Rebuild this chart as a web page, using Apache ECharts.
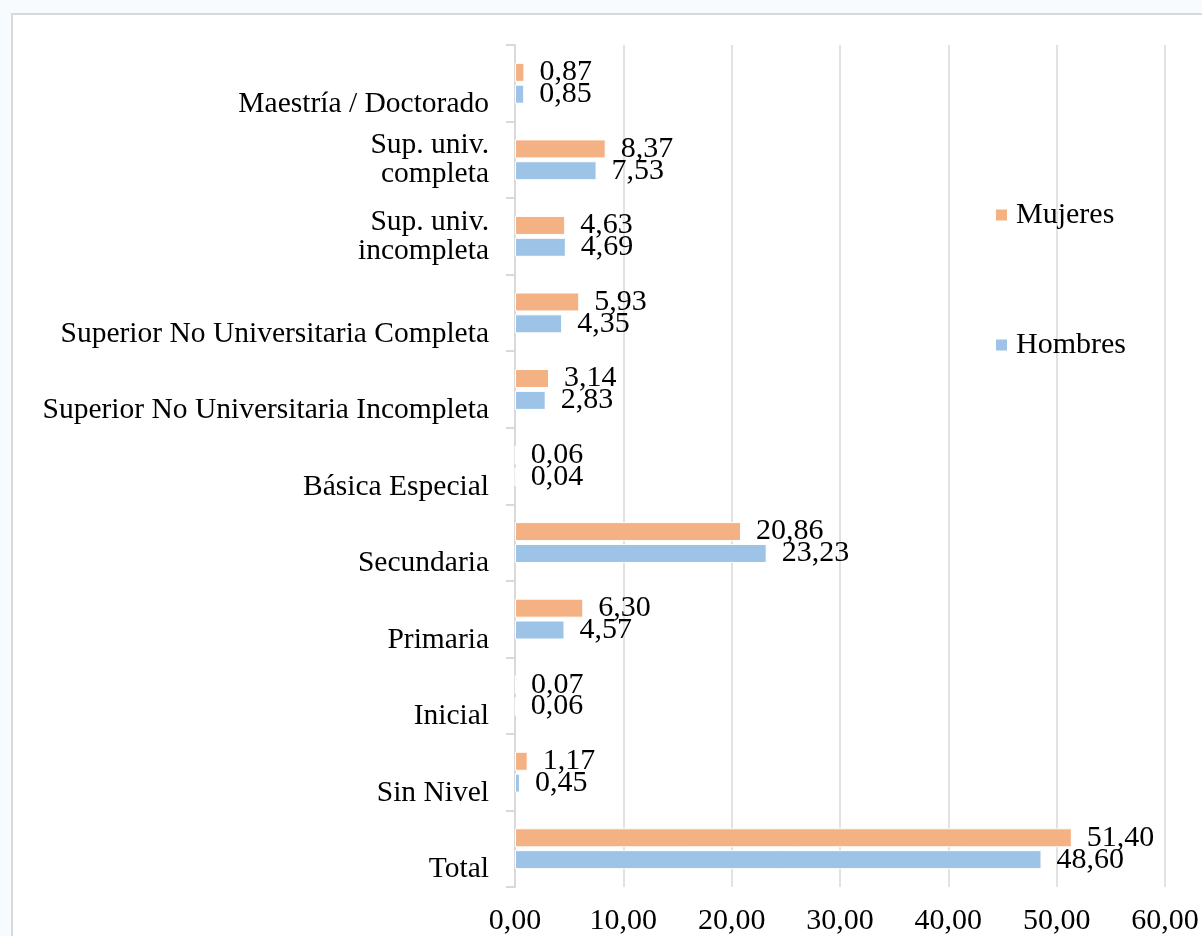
<!DOCTYPE html>
<html>
<head>
<meta charset="utf-8">
<script src="https://cdn.jsdelivr.net/npm/echarts@6/dist/echarts.min.js"></script>
<style>
html, body { margin: 0; padding: 0; background: #F8FBFD; }
#chart { width: 1202px; height: 936px; }
</style>
</head>
<body>
<div id="chart"></div>
<script>
// categorias de abajo hacia arriba
var categorias = [
    'Total',
    'Sin Nivel',
    'Inicial',
    'Primaria',
    'Secundaria',
    'Básica Especial',
    'Superior No Universitaria Incompleta',
    'Superior No Universitaria Completa',
    'Sup. univ.\nincompleta',
    'Sup. univ.\ncompleta',
    'Maestría / Doctorado'
];
var mujeres = [51.40, 1.17, 0.07, 6.30, 20.86, 0.06, 3.14, 5.93, 4.63, 8.37, 0.87];
var hombres = [48.60, 0.45, 0.06, 4.57, 23.23, 0.04, 2.83, 4.35, 4.69, 7.53, 0.85];
var ticksX = [0, 10, 20, 30, 40, 50, 60];

var fuente = '"Liberation Serif", "Times New Roman", serif';

function coma(v) {
    return Number(v).toFixed(2).replace('.', ',');
}

var myChart = echarts.init(document.getElementById('chart'));

var etiqueta = {
    show: true,
    position: 'right',
    distance: 15,
    fontFamily: fuente,
    fontSize: 30,
    color: '#000',
    formatter: function (p) { return coma(p.value); }
};

var option = {
    backgroundColor: '#F8FBFD',
    animation: false,
    graphic: [{
        type: 'rect',
        z: -10,
        shape: { x: 12, y: 14, width: 1260, height: 1000 },
        style: { fill: '#fff', stroke: '#D9D9D9', lineWidth: 2 }
    }],
    legend: {
        data: ['Mujeres', 'Hombres'],
        orient: 'vertical',
        left: 994,
        top: 200,
        padding: 0,
        itemWidth: 13,
        itemHeight: 13,
        itemGap: 100,
        icon: 'rect',
        textStyle: {
            fontFamily: fuente,
            fontSize: 30,
            lineHeight: 30,
            color: '#000',
            padding: [0, 0, 0, 3]
        }
    },
    grid: {
        left: 515,
        right: 37,
        top: 45,
        bottom: 49
    },
    xAxis: {
        type: 'value',
        min: ticksX[0],
        max: ticksX[ticksX.length - 1],
        interval: 10,
        axisLine: { show: false },
        axisTick: { show: false },
        splitLine: { show: true, lineStyle: { color: '#D9D9D9', width: 1.5 } },
        axisLabel: {
            margin: 19,
            fontFamily: fuente,
            fontSize: 30,
            color: '#000',
            formatter: function (v) { return coma(v); }
        }
    },
    yAxis: {
        type: 'category',
        data: categorias,
        axisLine: { show: true, lineStyle: { color: '#D9D9D9', width: 2 } },
        axisTick: { show: true, length: 9, lineStyle: { color: '#D9D9D9', width: 2 } },
        splitLine: { show: false },
        axisLabel: {
            interval: 0,
            margin: 26,
            fontFamily: fuente,
            fontSize: 29.5,
            lineHeight: 29,
            color: '#000',
            formatter: function (v) {
                if (v.indexOf('\n') >= 0) return v;
                return '{uno|' + v + '}';
            },
            rich: {
                uno: {
                    fontFamily: fuente,
                    fontSize: 29.5,
                    lineHeight: 29,
                    color: '#000',
                    padding: [42, 0, 0, 0]
                }
            }
        }
    },
    series: [
        {
            name: 'Mujeres',
            type: 'bar',
            data: mujeres,
            barWidth: 19,
            barGap: '15%',
            itemStyle: { color: '#F4B183', borderColor: '#fff', borderWidth: 1 },
            label: etiqueta
        },
        {
            name: 'Hombres',
            type: 'bar',
            data: hombres,
            barWidth: 19,
            barGap: '15%',
            itemStyle: { color: '#9DC3E6', borderColor: '#fff', borderWidth: 1 },
            label: etiqueta
        }
    ]
};

myChart.setOption(option);
</script>
</body>
</html>
